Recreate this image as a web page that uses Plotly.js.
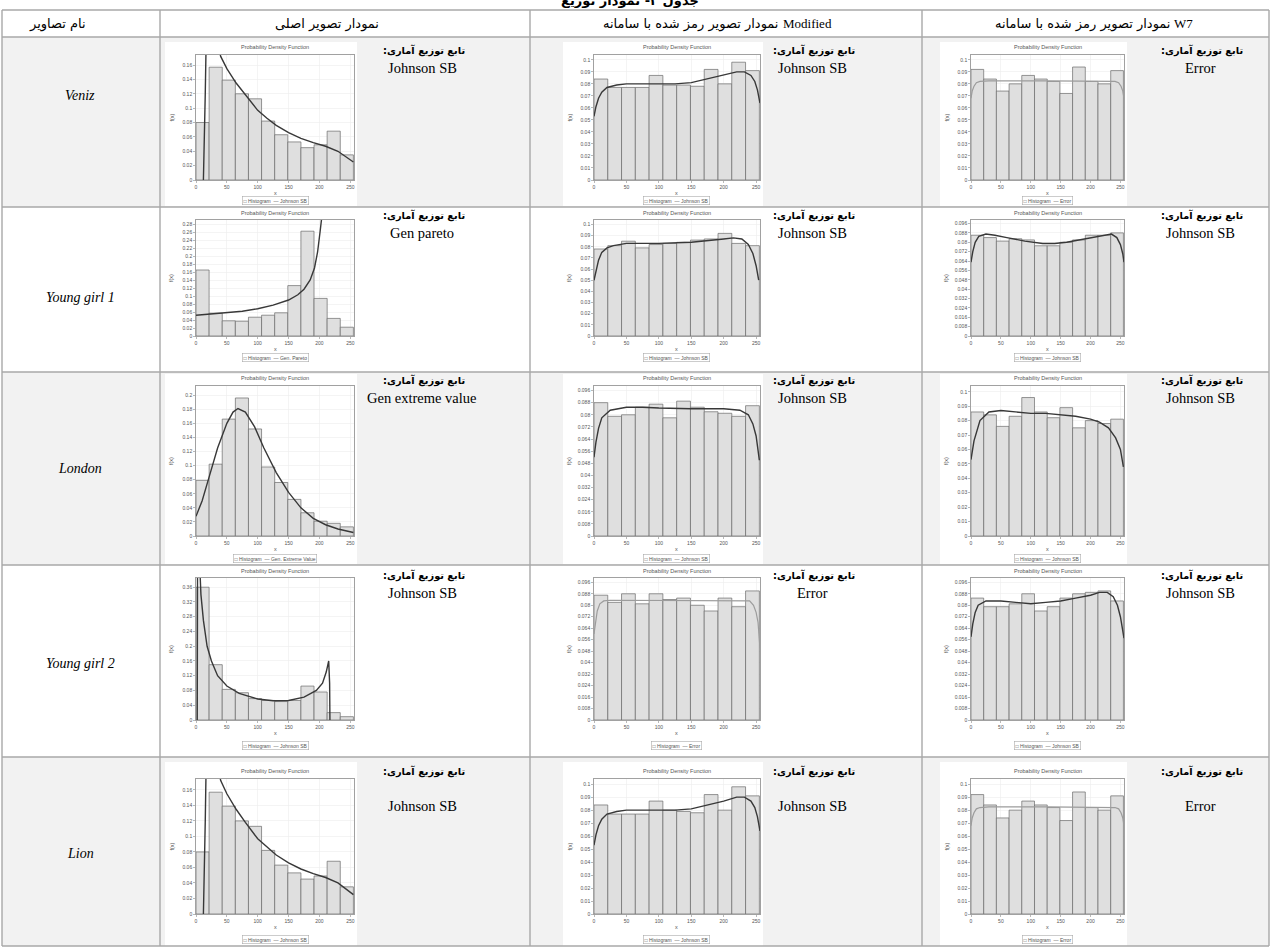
<!DOCTYPE html>
<html><head><meta charset="utf-8">
<script src="https://cdn.plot.ly/plotly-3.0.1.min.js"></script>
<style>html,body{margin:0;padding:0;background:#fff}#chart{width:1271px;height:947px}</style>
</head><body><div id="chart"></div>
<script>
// ---------------- DATA ----------------
const tableTitle = 'جدول ۳- نمودار توزیع';
const headersFa = ['نام تصاویر','نمودار تصویر اصلی','نمودار تصویر رمز شده با سامانه','نمودار تصویر رمز شده با سامانه'];
const headersLatin = ['','','Modified','W7'];
const imageNames = ['Veniz','Young girl 1','London','Young girl 2','Lion'];
const labelText = 'تابع توزیع آماری';
const labelColon = ':';
const distNames = [
  ['Johnson SB','Johnson SB','Error'],
  ['Gen pareto','Johnson SB','Johnson SB'],
  ['Gen extreme value','Johnson SB','Johnson SB'],
  ['Johnson SB','Error','Johnson SB'],
  ['Johnson SB','Johnson SB','Error']
];
const legendNames = [
  ['Johnson SB','Johnson SB','Error'],
  ['Gen. Pareto','Johnson SB','Johnson SB'],
  ['Gen. Extreme Value','Johnson SB','Johnson SB'],
  ['Johnson SB','Error','Johnson SB'],
  ['Johnson SB','Johnson SB','Error']
];
const chartTitle = 'Probability Density Function';
const xTicks = [0,50,100,150,200,250];
const binCenters = [10.6,31.9,53.1,74.4,95.6,116.9,138.1,159.4,180.6,201.9,223.1,244.4];
const binWidth = 21.25;

// Veniz
const venizOrigBars = [0.080,0.157,0.139,0.120,0.113,0.082,0.063,0.053,0.045,0.049,0.068,0.035];
const venizOrigCurveX = [12,13,14,15,16,17,18,40,50,65,80,100,115,130,150,170,190,210,230,245,255];
const venizOrigCurveY = [0,0.03,0.07,0.12,0.17,0.21,0.25,0.172,0.155,0.135,0.118,0.097,0.086,0.076,0.066,0.058,0.052,0.047,0.040,0.031,0.025];
const venizModBars = [0.084,0.077,0.077,0.077,0.087,0.079,0.079,0.078,0.092,0.080,0.098,0.091];
const venizModCurveX = [0,3,7,12,20,35,50,75,100,125,150,175,200,220,232,242,248,252,256];
const venizModCurveY = [0.053,0.061,0.068,0.073,0.077,0.079,0.080,0.080,0.0795,0.080,0.081,0.084,0.087,0.090,0.090,0.087,0.082,0.075,0.064];
const venizW7Bars = [0.092,0.084,0.074,0.080,0.087,0.084,0.082,0.072,0.094,0.082,0.080,0.091];
const venizW7CurveX = [0,2,5,9,15,30,128,226,241,247,251,254,256];
const venizW7CurveY = [0.068,0.074,0.078,0.081,0.082,0.0825,0.0825,0.0825,0.082,0.081,0.078,0.074,0.068];

// Young girl 1
const yg1OrigBars = [0.165,0.057,0.038,0.037,0.047,0.052,0.058,0.126,0.262,0.094,0.044,0.022];
const yg1OrigCurveX = [0,25,50,75,100,125,150,165,175,185,192,197,201,204];
const yg1OrigCurveY = [0.052,0.055,0.058,0.062,0.068,0.077,0.090,0.103,0.117,0.140,0.170,0.210,0.260,0.300];
const yg1ModBars = [0.078,0.081,0.085,0.079,0.082,0.083,0.084,0.086,0.087,0.092,0.083,0.081];
const yg1ModCurveX = [0,3,7,12,20,30,50,100,150,200,215,228,238,245,250,254];
const yg1ModCurveY = [0.050,0.059,0.068,0.075,0.079,0.081,0.083,0.083,0.084,0.087,0.088,0.087,0.082,0.074,0.063,0.050];
const yg1W7Bars = [0.086,0.084,0.081,0.083,0.082,0.077,0.077,0.080,0.082,0.086,0.086,0.088];
const yg1W7CurveX = [0,3,7,13,25,40,60,90,120,140,160,190,220,235,244,250,254,256];
const yg1W7CurveY = [0.063,0.072,0.080,0.085,0.087,0.086,0.084,0.081,0.079,0.079,0.080,0.083,0.086,0.087,0.084,0.078,0.070,0.063];

// London
const londonOrigBars = [0.079,0.102,0.166,0.196,0.152,0.098,0.076,0.052,0.033,0.021,0.018,0.013];
const londonOrigCurveX = [0,10,20,35,50,60,68,80,95,110,130,150,170,190,210,230,255];
const londonOrigCurveY = [0.028,0.050,0.080,0.125,0.160,0.176,0.181,0.176,0.155,0.125,0.090,0.062,0.040,0.025,0.016,0.010,0.005];
const londonModBars = [0.088,0.079,0.080,0.085,0.087,0.078,0.089,0.085,0.082,0.081,0.079,0.086];
const londonModCurveX = [0,3,7,12,25,50,75,100,150,200,225,238,245,250,255];
const londonModCurveY = [0.052,0.062,0.071,0.078,0.083,0.085,0.085,0.0845,0.084,0.084,0.083,0.080,0.074,0.066,0.050];
const londonW7Bars = [0.086,0.084,0.076,0.083,0.096,0.086,0.082,0.089,0.075,0.080,0.078,0.081];
const londonW7CurveX = [0,5,15,30,50,75,100,125,150,175,200,215,230,242,250,255];
const londonW7CurveY = [0.053,0.066,0.080,0.086,0.087,0.086,0.085,0.085,0.084,0.083,0.081,0.079,0.075,0.068,0.060,0.048];

// Young girl 2
const yg2OrigBars = [0.360,0.150,0.083,0.074,0.058,0.053,0.050,0.053,0.092,0.076,0.020,0.009];
const yg2OrigCurveX = [2,2.5,6,8,12,18,25,35,50,70,100,125,150,175,195,205,211,215,216.5,217];
const yg2OrigCurveY = [0,0.42,0.42,0.34,0.27,0.20,0.16,0.12,0.092,0.072,0.057,0.052,0.053,0.062,0.080,0.100,0.130,0.160,0.100,0];
const yg2ModBars = [0.087,0.082,0.088,0.081,0.088,0.084,0.085,0.080,0.076,0.085,0.079,0.090];
const yg2ModCurveX = [0,2,5,9,15,25,128,228,240,246,250,253,256];
const yg2ModCurveY = [0.060,0.068,0.076,0.081,0.083,0.0835,0.0835,0.0835,0.083,0.080,0.075,0.068,0.050];
const yg2W7Bars = [0.085,0.079,0.079,0.081,0.088,0.076,0.079,0.085,0.088,0.089,0.090,0.083];
const yg2W7CurveX = [0,3,7,12,25,50,75,100,125,150,175,200,215,228,238,245,250,256];
const yg2W7CurveY = [0.058,0.067,0.075,0.080,0.083,0.083,0.082,0.081,0.082,0.083,0.085,0.087,0.089,0.089,0.086,0.080,0.072,0.057];

// Lion
const lionOrigBars = [0.080,0.157,0.139,0.120,0.113,0.082,0.063,0.053,0.045,0.049,0.068,0.035];
const lionOrigCurveX = [12,13,14,15,16,17,18,40,50,65,80,100,115,130,150,170,190,210,230,245,255];
const lionOrigCurveY = [0,0.03,0.07,0.12,0.17,0.21,0.25,0.172,0.155,0.135,0.118,0.097,0.086,0.076,0.066,0.058,0.052,0.047,0.040,0.031,0.025];
const lionModBars = [0.084,0.077,0.077,0.077,0.087,0.080,0.079,0.078,0.092,0.080,0.098,0.091];
const lionModCurveX = [0,3,7,12,20,35,50,75,100,125,150,175,200,220,232,242,248,252,256];
const lionModCurveY = [0.053,0.061,0.068,0.073,0.077,0.079,0.080,0.080,0.0795,0.080,0.081,0.084,0.087,0.090,0.090,0.087,0.082,0.075,0.064];
const lionW7Bars = [0.092,0.084,0.074,0.080,0.087,0.084,0.082,0.072,0.094,0.082,0.080,0.091];
const lionW7CurveX = [0,2,5,9,15,30,128,226,241,247,251,254,256];
const lionW7CurveY = [0.068,0.074,0.078,0.081,0.082,0.0825,0.0825,0.0825,0.082,0.081,0.078,0.074,0.068];

// y-axis scale of each small chart (top of axis, tick step)
const yAxisTop = [[0.174,0.104,0.104],[0.29,0.104,0.099],[0.213,0.099,0.104],[0.385,0.099,0.099],[0.174,0.104,0.104]];
const yAxisStep = [[0.02,0.01,0.01],[0.02,0.01,0.008],[0.02,0.008,0.01],[0.04,0.008,0.008],[0.02,0.01,0.01]];

// ---------------- LAYOUT GEOMETRY (pixels) ----------------
const W = 1271, H = 947;
const fx = p => p / W, fy = p => 1 - p / H;
const colLines = [2,160,530,922,1269];
const rowLines = [10,37,207,372,565,757,946];
const imgX = [[165,357],[563,763],[940,1127]];
// per row: picture top, picture bottom, title y, plot top, plot bottom, legend y
const rowGeo = [
  [42,206,47,55,180,200],
  [209,364,213,220,336,357],
  [374,564,378,386,536,558],
  [567,754,571,578,720,745],
  [762,946,771,779,914,939]
];
const nameY = [95,298,468,663,853];
const labelCX = [422,812,1200];
const labelY = [[50,68],[215,233],[380,398],[575,593],[771,806]];
const headerX = [57,327,715,1092];

const faFamily = 'DejaVu Sans';
const latinFamily = 'Liberation Serif, Times New Roman';
const headerSize = 13;
const labelSize = 9.8;
const ctx = document.createElement('canvas').getContext('2d');
const measure = (txt, font) => { ctx.font = font; return ctx.measureText(txt).width; };

const chartData = [
  [[venizOrigBars,venizOrigCurveX,venizOrigCurveY],[venizModBars,venizModCurveX,venizModCurveY],[venizW7Bars,venizW7CurveX,venizW7CurveY]],
  [[yg1OrigBars,yg1OrigCurveX,yg1OrigCurveY],[yg1ModBars,yg1ModCurveX,yg1ModCurveY],[yg1W7Bars,yg1W7CurveX,yg1W7CurveY]],
  [[londonOrigBars,londonOrigCurveX,londonOrigCurveY],[londonModBars,londonModCurveX,londonModCurveY],[londonW7Bars,londonW7CurveX,londonW7CurveY]],
  [[yg2OrigBars,yg2OrigCurveX,yg2OrigCurveY],[yg2ModBars,yg2ModCurveX,yg2ModCurveY],[yg2W7Bars,yg2W7CurveX,yg2W7CurveY]],
  [[lionOrigBars,lionOrigCurveX,lionOrigCurveY],[lionModBars,lionModCurveX,lionModCurveY],[lionW7Bars,lionW7CurveX,lionW7CurveY]]
];

const traces = [];
const layout = {
  width: W, height: H, margin: {l:0,r:0,t:0,b:0},
  paper_bgcolor: '#ffffff', plot_bgcolor: 'rgba(0,0,0,0)',
  showlegend: false, bargap: 0, shapes: [], annotations: []
};
const ann = (x, y, text, font, extra) => Object.assign({
  xref:'paper', yref:'paper', x: fx(x), y: fy(y), text, showarrow:false,
  xanchor:'center', yanchor:'middle', font
}, extra || {});
const smallFont = {size:5.5, color:'#555', family:'Liberation Sans, Arial'};

// row bands
[0,2,4].forEach(r => layout.shapes.push({type:'rect', xref:'paper', yref:'paper', layer:'below',
  x0: fx(colLines[0]), x1: fx(colLines[4]), y0: fy(rowLines[r+1]), y1: fy(rowLines[r+2]),
  fillcolor:'#f2f2f2', line:{width:0}}));

const labelW = measure(labelText, 'bold ' + labelSize + 'px ' + faFamily);
const colonW = measure(labelColon, 'bold ' + labelSize + 'px ' + faFamily);

let n = 0;
for (let r = 0; r < 5; r++) {
  const [iy0, iy1, ty, pt, pb, ly] = rowGeo[r];
  for (let c = 0; c < 3; c++) {
    n++;
    const sfx = n === 1 ? '' : String(n);
    const xa = 'x' + sfx, ya = 'y' + sfx;
    const [bars, cx, cy] = chartData[r][c];
    const [ix0, ix1] = imgX[c];
    const pl = ix0 + 31, pr = ix1 - 3;
    const light = legendNames[r][c] === 'Error';
    layout.shapes.push({type:'rect', xref:'paper', yref:'paper', layer:'below',
      x0: fx(ix0), x1: fx(ix1), y0: fy(iy1), y1: fy(iy0), fillcolor:'#ffffff', line:{width:0}});
    traces.push({type:'bar', x: binCenters, y: bars, width: binWidth, xaxis: xa, yaxis: ya,
      marker:{color:'#dfdfdf', line:{color:'#6a6a6a', width:0.7}}, hoverinfo:'skip'});
    traces.push({type:'scatter', mode:'lines', x: cx, y: cy, xaxis: xa, yaxis: ya,
      line:{color: light ? '#9c9c9c' : '#383838', width: light ? 1.2 : 1.4}, hoverinfo:'skip'});
    const axCommon = {showline:true, mirror:true, linecolor:'#8a8a8a', linewidth:0.8,
      showgrid:true, gridcolor:'#ececec', gridwidth:0.6, zeroline:false, ticks:'outside',
      ticklen:2, tickcolor:'#8a8a8a', tickwidth:0.6, fixedrange:true,
      tickfont:{size:5, color:'#555', family:'Liberation Sans, Arial'}};
    layout['xaxis' + sfx] = Object.assign({}, axCommon, {
      domain:[fx(pl), fx(pr)], range:[0,256], anchor: ya, tickvals: xTicks});
    layout['yaxis' + sfx] = Object.assign({}, axCommon, {
      domain:[fy(pb), fy(pt)], range:[0, yAxisTop[r][c]], anchor: xa, dtick: yAxisStep[r][c], tick0:0});
    layout.annotations.push(ann((pl+pr)/2, ty, chartTitle, smallFont));
    layout.annotations.push(ann((pl+pr)/2, pb + 13, 'x', smallFont));
    layout.annotations.push(ann(ix0 + 6, (pt+pb)/2, 'f(x)', smallFont, {textangle:-90}));
    layout.annotations.push(ann((pl+pr)/2, ly, '\u25A1 Histogram  \u2014 ' + legendNames[r][c],
      {size:5, color:'#555', family:'Liberation Sans, Arial'}, {bordercolor:'#aaaaaa', borderwidth:0.6, borderpad:1, bgcolor:'#ffffff'}));
    // label: colon visually at the left of the Persian words
    const total = labelW + colonW;
    const left = labelCX[c] - total / 2;
    const lf = {size:labelSize, color:'#000', family:faFamily};
    layout.annotations.push(ann(left, labelY[r][0], '<b>' + labelColon + '</b>', lf, {xanchor:'left'}));
    layout.annotations.push(ann(left + colonW, labelY[r][0], '<b>' + labelText + '</b>', lf, {xanchor:'left'}));
    layout.annotations.push(ann(labelCX[c], labelY[r][1], distNames[r][c], {size:14.5, color:'#000', family:latinFamily}));
  }
  layout.annotations.push(ann(80, nameY[r], '<i>' + imageNames[r] + '</i>', {size:14, color:'#000', family:latinFamily}));
}

// headers: Persian words, Latin system name to their right
headersFa.forEach((h, i) => {
  const hf = {size:headerSize, color:'#000', family:faFamily};
  const lfnt = {size:headerSize, color:'#000', family:latinFamily};
  if (!headersLatin[i]) { layout.annotations.push(ann(headerX[i], 24, h, hf)); return; }
  const wFa = measure(h, headerSize + 'px ' + faFamily);
  const wLa = measure(headersLatin[i], headerSize + 'px Liberation Serif');
  const gap = 4;
  const start = headerX[i] - (wFa + gap + wLa) / 2;
  layout.annotations.push(ann(start, 24, h, hf, {xanchor:'left'}));
  layout.annotations.push(ann(start + wFa + gap, 24, headersLatin[i], lfnt, {xanchor:'left'}));
});
layout.annotations.push(ann(630, 0, '<b>' + tableTitle + '</b>', {size:13, color:'#000', family:faFamily}));

rowLines.forEach(y => layout.shapes.push({type:'line', xref:'paper', yref:'paper',
  x0: fx(colLines[0]), x1: fx(colLines[4]), y0: fy(y), y1: fy(y), line:{color:'#a8a8a8', width:1.6}}));
colLines.forEach(x => layout.shapes.push({type:'line', xref:'paper', yref:'paper',
  x0: fx(x), x1: fx(x), y0: fy(rowLines[0]), y1: fy(rowLines[rowLines.length-1]), line:{color:'#a8a8a8', width:1.4}}));

Plotly.newPlot('chart', traces, layout, {staticPlot:true, displayModeBar:false});
</script>
</body></html>
